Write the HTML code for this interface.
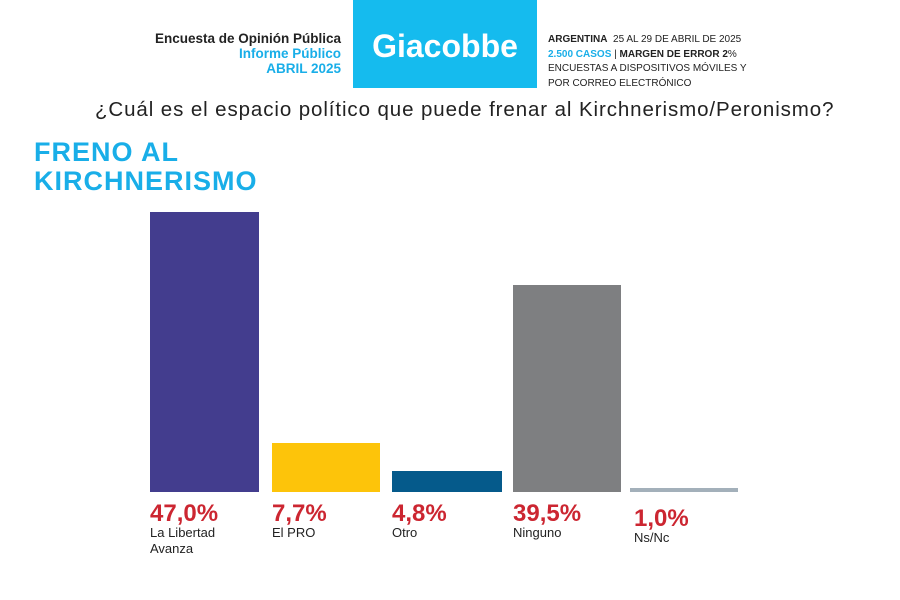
<!DOCTYPE html>
<html><head><meta charset="utf-8"><style>
body{margin:0;width:900px;height:600px;background:#fff;position:relative;font-family:"Liberation Sans",sans-serif;overflow:hidden}
.a{position:absolute;white-space:nowrap}
.bar{position:absolute}
.pct{position:absolute;top:500px;color:#cc2631;font-size:24px;font-weight:bold}
.lab{position:absolute;top:525px;color:#222;font-size:13px;line-height:16px}
</style></head><body>
<div class="a" style="right:559px;top:31px;text-align:right;font-size:13.5px;line-height:15px;font-weight:bold;color:#222">Encuesta de Opinión Pública<br><span style="color:#19aee8">Informe Público</span><br><span style="color:#19aee8">ABRIL 2025</span></div>
<div class="a" style="left:353px;top:0;width:184px;height:88px;background:#15bbee;color:#fff;font-weight:bold;font-size:32px;text-align:center;line-height:92px">Giacobbe</div>
<div class="a" style="left:548px;top:33px;font-size:10px;line-height:14.5px;color:#222"><b>ARGENTINA</b>&nbsp; 25 AL 29 DE ABRIL DE 2025<br><span style="color:#19aee8;font-weight:bold">2.500 CASOS</span> | <b>MARGEN DE ERROR 2</b>%<br>ENCUESTAS A DISPOSITIVOS MÓVILES Y<br>POR CORREO ELECTRÓNICO</div>
<div class="a" style="left:95px;top:98px;font-size:20.5px;letter-spacing:0.9px;color:#222">¿Cuál es el espacio político que puede frenar al Kirchnerismo/Peronismo?</div>
<div class="a" style="left:34px;top:138px;font-size:27px;line-height:29px;font-weight:bold;letter-spacing:1px;color:#19aee8">FRENO AL<br>KIRCHNERISMO</div>
<div class="bar" style="left:150px;top:212px;width:109px;height:280px;background:#433d8e"></div>
<div class="bar" style="left:272px;top:443px;width:108px;height:49px;background:#fdc40a"></div>
<div class="bar" style="left:392px;top:471px;width:110px;height:21px;background:#055a8b"></div>
<div class="bar" style="left:513px;top:285px;width:108px;height:207px;background:#7e7f81"></div>
<div class="bar" style="left:630px;top:488px;width:108px;height:4px;background:#a3b0ba"></div>
<div class="pct" style="left:150px">47,0%</div><div class="lab" style="left:150px">La Libertad<br>Avanza</div>
<div class="pct" style="left:272px">7,7%</div><div class="lab" style="left:272px">El PRO</div>
<div class="pct" style="left:392px">4,8%</div><div class="lab" style="left:392px">Otro</div>
<div class="pct" style="left:513px">39,5%</div><div class="lab" style="left:513px">Ninguno</div>
<div class="pct" style="left:634px;top:505px">1,0%</div><div class="lab" style="left:634px;top:530px">Ns/Nc</div>
</body></html>
